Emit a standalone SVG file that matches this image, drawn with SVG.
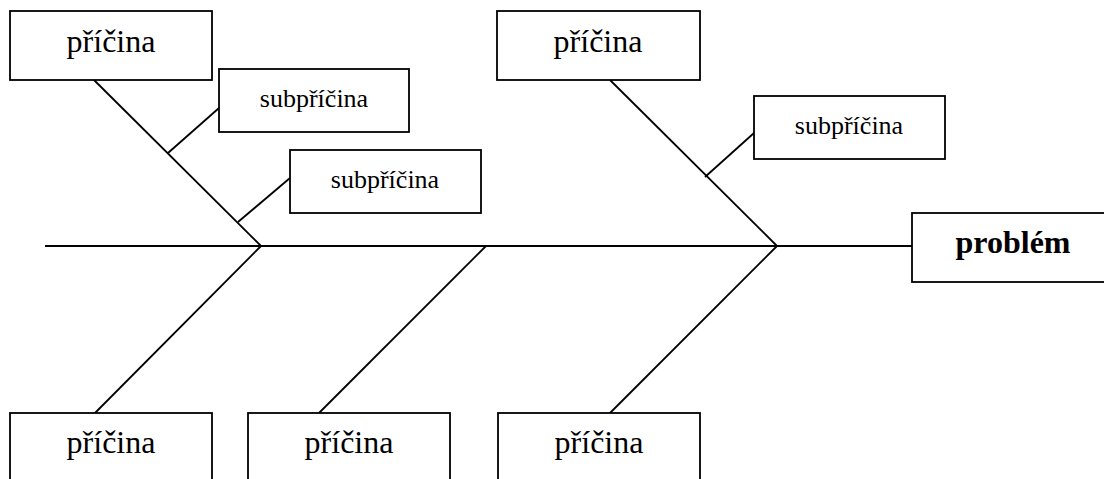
<svg xmlns="http://www.w3.org/2000/svg" width="1104" height="479" viewBox="0 0 1104 479">
<style>
.box{fill:#fff;stroke:#000;stroke-width:1.8}
.ln{stroke:#000;stroke-width:1.8;fill:none}
.t{font-family:"Liberation Serif","Times New Roman",serif;font-size:32px;text-anchor:middle;fill:#000}
.s{font-family:"Liberation Serif","Times New Roman",serif;font-size:26px;text-anchor:middle;fill:#000}
.b{font-weight:bold}
</style>
<rect width="1104" height="479" fill="#fff"/>
<g id="connectors">
<line class="ln" x1="45" y1="246" x2="912" y2="246"/>
<line class="ln" x1="94" y1="80" x2="261" y2="246"/>
<line class="ln" x1="168" y1="153" x2="219" y2="108"/>
<line class="ln" x1="238" y1="222" x2="290" y2="178"/>
<line class="ln" x1="610" y1="80" x2="777" y2="246"/>
<line class="ln" x1="705" y1="177" x2="754" y2="133"/>
<line class="ln" x1="261" y1="246" x2="95" y2="413"/>
<line class="ln" x1="486" y1="246" x2="319" y2="413"/>
<line class="ln" x1="777" y1="246" x2="610" y2="413"/>
</g>
<g id="cause1"><rect class="box" x="10" y="11" width="202" height="69"/><text class="t" x="111" y="52">příčina</text></g>
<g id="cause2"><rect class="box" x="497" y="11" width="203" height="69"/><text class="t" x="598" y="52">příčina</text></g>
<g id="sub1"><rect class="box" x="219" y="69" width="190" height="63"/><text class="s" x="314" y="107">subpříčina</text></g>
<g id="sub2"><rect class="box" x="290" y="150" width="191" height="63"/><text class="s" x="385" y="188">subpříčina</text></g>
<g id="sub3"><rect class="box" x="754" y="96" width="191" height="63"/><text class="s" x="849" y="134">subpříčina</text></g>
<g id="problem"><rect class="box" x="912" y="213" width="200" height="69"/><text class="t b" x="1013" y="253">problém</text></g>
<g id="cause3"><rect class="box" x="10" y="413" width="202" height="80"/><text class="t" x="111" y="453">příčina</text></g>
<g id="cause4"><rect class="box" x="248" y="413" width="202" height="80"/><text class="t" x="349" y="453">příčina</text></g>
<g id="cause5"><rect class="box" x="498" y="413" width="202" height="80"/><text class="t" x="599" y="453">příčina</text></g>
</svg>
